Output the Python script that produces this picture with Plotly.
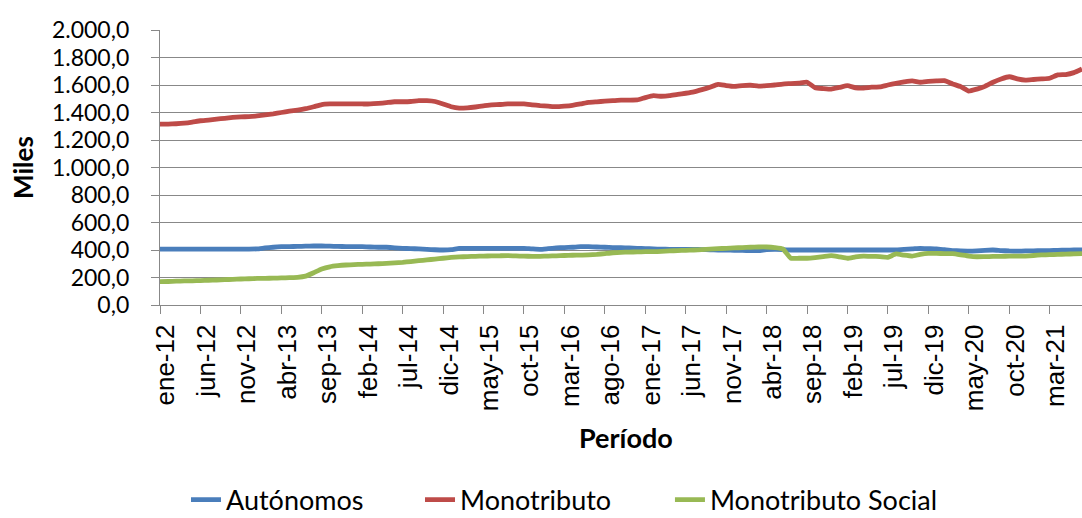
import plotly.graph_objects as go

meses = ["ene", "feb", "mar", "abr", "may", "jun", "jul", "ago", "sep", "oct", "nov", "dic"]
periodos = [f"{meses[i % 12]}-{12 + i // 12}" for i in range(115)]  # ene-12 .. jul-21

autonomos = [
    407, 407, 407, 407, 407, 407, 407, 407, 407, 407, 407, 407, 408, 415, 420,
    424, 425, 426, 428, 429, 429, 428, 426, 425, 424, 424, 422, 420, 420, 416,
    412, 410, 408, 405, 402, 400, 402, 412, 412, 412, 412, 412, 412, 412, 412,
    412, 408, 405, 410, 415, 418, 420, 424, 424, 422, 420, 418, 417, 415, 412,
    410, 408, 406, 405, 405, 405, 404, 403, 402, 400, 400, 398, 397, 396, 395,
    402, 404, 403, 400, 400, 400, 400, 400, 400, 400, 400, 400, 400, 400, 400,
    400, 400, 405, 408, 412, 410, 408, 402, 396, 393, 392, 394, 398, 400, 396,
    393, 392, 393, 394, 395, 396, 398, 399, 400, 400,
]

monotributo = [
    1316, 1316, 1318, 1322, 1330, 1340, 1345, 1352, 1358, 1364, 1368, 1370, 1375, 1382, 1390,
    1400, 1410, 1418, 1428, 1442, 1458, 1462, 1462, 1462, 1462, 1462, 1462, 1466, 1472, 1478,
    1478, 1480, 1486, 1486, 1480, 1462, 1442, 1432, 1434, 1440, 1448, 1456, 1458, 1462, 1462,
    1462, 1456, 1450, 1446, 1442, 1446, 1452, 1462, 1474, 1478, 1482, 1486, 1490, 1490, 1491,
    1508, 1522, 1518, 1522, 1532, 1540, 1550, 1566, 1584, 1605, 1596, 1590, 1596, 1598, 1592,
    1595, 1600, 1607, 1610, 1614, 1620, 1580, 1574, 1570, 1582, 1595, 1580, 1578, 1584, 1586,
    1600, 1612, 1622, 1630, 1620, 1626, 1630, 1632, 1608, 1588, 1556, 1570, 1590, 1620, 1644,
    1660, 1645, 1636, 1640, 1644, 1649, 1673, 1676, 1690, 1716,
]

monotributo_social = [
    170, 171, 173, 175, 176, 178, 180, 182, 184, 187, 189, 191, 193, 194, 195,
    197, 199, 201, 210, 235, 262, 278, 286, 291, 294, 296, 298, 300, 303, 306,
    310, 316, 322, 328, 334, 340, 346, 350, 352, 354, 356, 357, 358, 359, 357,
    355, 354, 354, 356, 358, 360, 362, 363, 364, 368, 374, 380, 383, 385, 386,
    388, 388, 390, 393, 396, 398, 400, 403, 406, 410, 412, 415, 418, 420, 422,
    422, 418, 408, 340, 340, 340, 345, 352, 359, 350, 340, 350, 356, 354, 352,
    347, 371, 362, 356, 368, 375, 375, 374, 373, 365, 356, 351, 352, 353, 354,
    355, 355, 356, 360, 364, 366, 368, 370, 372, 373,
]

series = [
    ("Autónomos", autonomos, "#4A7EBB", "legend", 0.0282),
    ("Monotributo", monotributo, "#BE4B48", "legend2", 0.282),
    ("Monotributo Social", monotributo_social, "#98B954", "legend3", 0.5531),
]

tick_labels = periodos[::5]

fig = go.Figure()
for name, vals, color, leg, _ in series:
    fig.add_trace(go.Scatter(
        x=periodos, y=vals, name=name, mode="lines", legend=leg,
        line=dict(color=color, width=4.8, shape="spline", smoothing=0.4),
    ))

grid = "#888888"
legend_font = dict(family="Lato", size=27, color="black")
legends = {}
for _, _, _, leg, lx in series:
    legends[leg] = dict(
        orientation="h", x=lx, xanchor="left", y=-0.709, yanchor="middle",
        font=legend_font, bgcolor="rgba(0,0,0,0)", borderwidth=0,
    )

fig.update_layout(
    width=1082, height=518,
    margin=dict(l=160, r=0, t=30, b=213, autoexpand=False),
    paper_bgcolor="white", plot_bgcolor="white",
    separators=",.",
    font=dict(family="Lato", color="black"),
    showlegend=True,
    **legends,
    xaxis=dict(
        type="category", range=[0, 114], automargin=False,
        tickmode="array", tickvals=tick_labels, ticktext=tick_labels,
        tickangle=-90, ticks="outside", ticklen=8, tickcolor=grid, tickwidth=1.3,
        tickfont=dict(family="Liberation Sans", size=26, color="black"),
        showline=True, linecolor=grid, linewidth=1.3,
        showgrid=False, zeroline=False,
        ticklabelshift=6,
    ),
    yaxis=dict(
        range=[0, 2000], dtick=200, tickformat=",.1f", automargin=False,
        ticks="outside", ticklen=8, tickcolor=grid, tickwidth=1.3,
        tickfont=dict(family="Lato", size=23, color="black"),
        showline=True, linecolor=grid, linewidth=1.3,
        showgrid=True, gridcolor=grid, gridwidth=1.3,
        zeroline=False,
        ticklabelstandoff=17,
    ),
    annotations=[
        dict(text="<b>Miles</b>", xref="paper", yref="paper", x=-0.1486, y=0.502,
             xanchor="center", yanchor="middle", textangle=-90, showarrow=False,
             font=dict(family="Lato", size=26, color="black")),
        dict(text="<b>Período</b>", xref="paper", yref="paper", x=0.5054, y=-0.48,
             xanchor="center", yanchor="middle", showarrow=False,
             font=dict(family="Lato", size=27, color="black")),
    ],
)

fig.write_html(
    "out.html",
    config={"displayModeBar": False},
    post_script="document.body.style.margin='0';document.body.style.overflow='hidden';",
)
